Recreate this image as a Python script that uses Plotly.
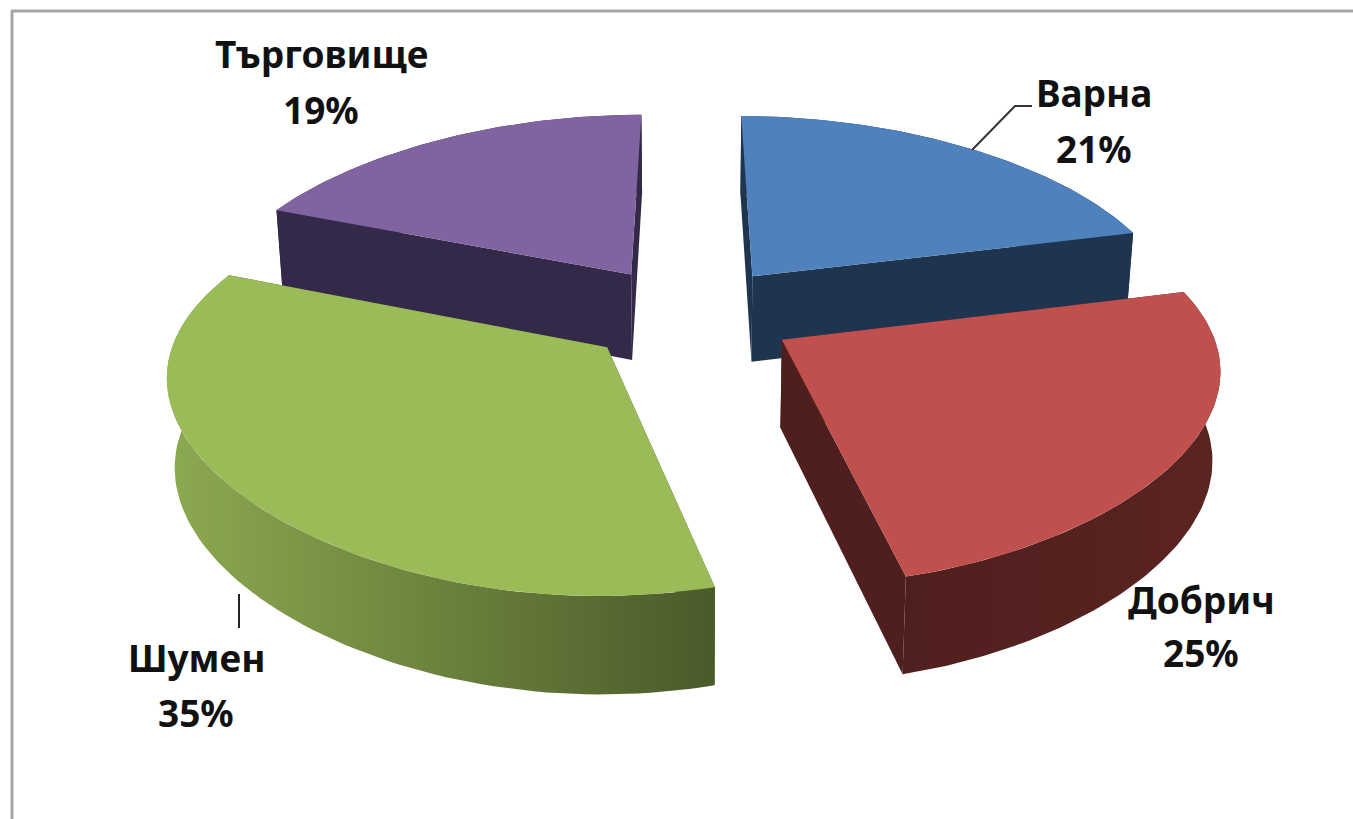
import numpy as np
import plotly.graph_objects as go

cities = ["Варна", "Добрич", "Шумен", "Търговище"]
shares = [21.1, 25.0, 34.9, 19.0]

top_colors = ["#4F81BD", "#C0504D", "#9BBB59", "#8064A2"]
wall_colors = ["#1F344F", "#4F1F1E", "#4A5A2A", "#35294A"]
side_gradients = [
    ["#1F344F", "#1F344F"],
    ["#4F1F1E", "#5A2421"],
    ["#8CAA50", "#4A5A2A"],
    ["#35294A", "#35294A"],
]
label_x = [1094, 1201, 196, 321]
name_y = [92, 599, 657, 53]
share_y = [148, 652, 712, 109]

# projection of the tilted pie onto the page
CX, CY = 689, 314
SCALE_X, SCALE_Y = 425, 197
TILT = 0.16
EXPLODE = 0.25
DEPTH = 87
SHRINK = 0.985


def project(x, y, lift=False):
    p = 1 / (1 + TILT * y)
    px = 1 / (1 + 0.15 * y + 0.05 * y * y)
    sx = CX + SCALE_X * x * px
    sy = CY - SCALE_Y * y * p
    if lift:
        sx = CX + (sx - CX) * SHRINK
        sy = sy + DEPTH * p ** 0.6
    return sx, sy


def slice_geometry(start, end):
    mid = np.radians((start + end) / 2)
    ox, oy = EXPLODE * np.sin(mid), EXPLODE * np.cos(mid)
    t = np.radians(np.linspace(start, end, 80))
    return ox, oy, ox + np.sin(t), oy + np.cos(t)


def polygon(fig, xs, ys, color, gradient=None):
    kw = dict(fillcolor=color)
    if gradient:
        kw = dict(fillgradient=dict(type="horizontal", colorscale=[[0, gradient[0]], [1, gradient[1]]]))
    fig.add_trace(go.Scatter(x=list(xs) + [xs[0]], y=list(ys) + [ys[0]], mode="lines", fill="toself",
                             line=dict(width=0), hoverinfo="skip", showlegend=False, **kw))


fig = go.Figure()

edges = np.cumsum([0] + shares) * 3.6
# far slices first so the near ones sit on top of them
for i in [3, 0, 2, 1]:
    ox, oy, ax, ay = slice_geometry(edges[i], edges[i + 1])
    tx, ty = project(ax, ay)
    bx, by = project(ax, ay, lift=True)
    apx, apy = project(ox, oy)
    abx, aby = project(ox, oy, lift=True)

    # the two cut faces, then rim, then top
    polygon(fig, [apx, tx[0], bx[0], abx, apx], [apy, ty[0], by[0], aby, apy], wall_colors[i])
    polygon(fig, [apx, tx[-1], bx[-1], abx, apx], [apy, ty[-1], by[-1], aby, apy], wall_colors[i])
    polygon(fig, np.r_[tx, bx[::-1]], np.r_[ty, by[::-1]], wall_colors[i], side_gradients[i])
    polygon(fig, np.r_[apx, tx], np.r_[apy, ty], top_colors[i])

label_font = dict(family="Noto Sans", size=37, color="#111111")
for i, city in enumerate(cities):
    fig.add_annotation(x=label_x[i], y=name_y[i], text=f"<b>{city}</b>", showarrow=False, font=label_font)
    fig.add_annotation(x=label_x[i], y=share_y[i], text=f"<b>{round(shares[i])}%</b>", showarrow=False, font=label_font)

fig.add_shape(type="line", x0=12, x1=12, y0=11, y1=819, line=dict(color="#A6A6A6", width=3))
fig.add_shape(type="line", x0=11, x1=1353, y0=11, y1=11, line=dict(color="#A6A6A6", width=3))
# leader lines
fig.add_shape(type="path", path="M 972 150 L 1015 106 L 1032 106", line=dict(color="#333333", width=2))
fig.add_shape(type="line", x0=239, x1=239, y0=594, y1=628, line=dict(color="#222222", width=2))

fig.update_layout(
    width=1353,
    height=819,
    margin=dict(l=0, r=0, t=0, b=0),
    paper_bgcolor="white",
    plot_bgcolor="white",
    xaxis=dict(range=[0, 1353], visible=False),
    yaxis=dict(range=[819, 0], visible=False),
)
fig.write_html("out.html", config=dict(displayModeBar=False),
               post_script="document.body.style.margin='0';document.body.style.overflow='hidden';")
